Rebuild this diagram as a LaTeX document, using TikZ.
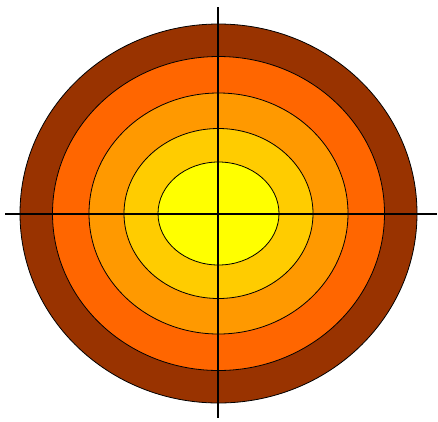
\documentclass[tikz,border=0pt]{standalone}
\usepackage{xcolor}
\usepackage{tikz}
\definecolor{alvoMarrom}  {RGB}{153,  51,   0}
\definecolor{alvoLaranja} {RGB}{255, 102,   0}
\definecolor{alvoOuro}    {RGB}{255, 153,   0}
\definecolor{alvoAmbar}   {RGB}{255, 204,   0}
\definecolor{alvoAmarelo} {RGB}{255, 255,   0}

\begin{document}
\begin{tikzpicture}[x=1pt,y=-1pt]
        \useasboundingbox (0,0) rectangle (438,421);
        \coordinate (centro) at (218.5,213.5);
        % Aneis (raio x, raio y, cor), de fora para dentro
        \foreach \rx/\ry/\col in {
          198.5/189.5/alvoMarrom,
          166/157/alvoLaranja,
          129.5/120.5/alvoOuro,
          94.5/85/alvoAmbar,
          60.5/51.5/alvoAmarelo}{
          \draw[fill=\col,draw=black,line width=0.8pt]
            (centro) ellipse [x radius=\rx, y radius=\ry];
        }
        % Eixos
        \draw[black,line width=2pt](5,214)--(437,214);
        \draw[black,line width=2pt](218,7)--(218,418);
      \end{tikzpicture}
\end{document}
